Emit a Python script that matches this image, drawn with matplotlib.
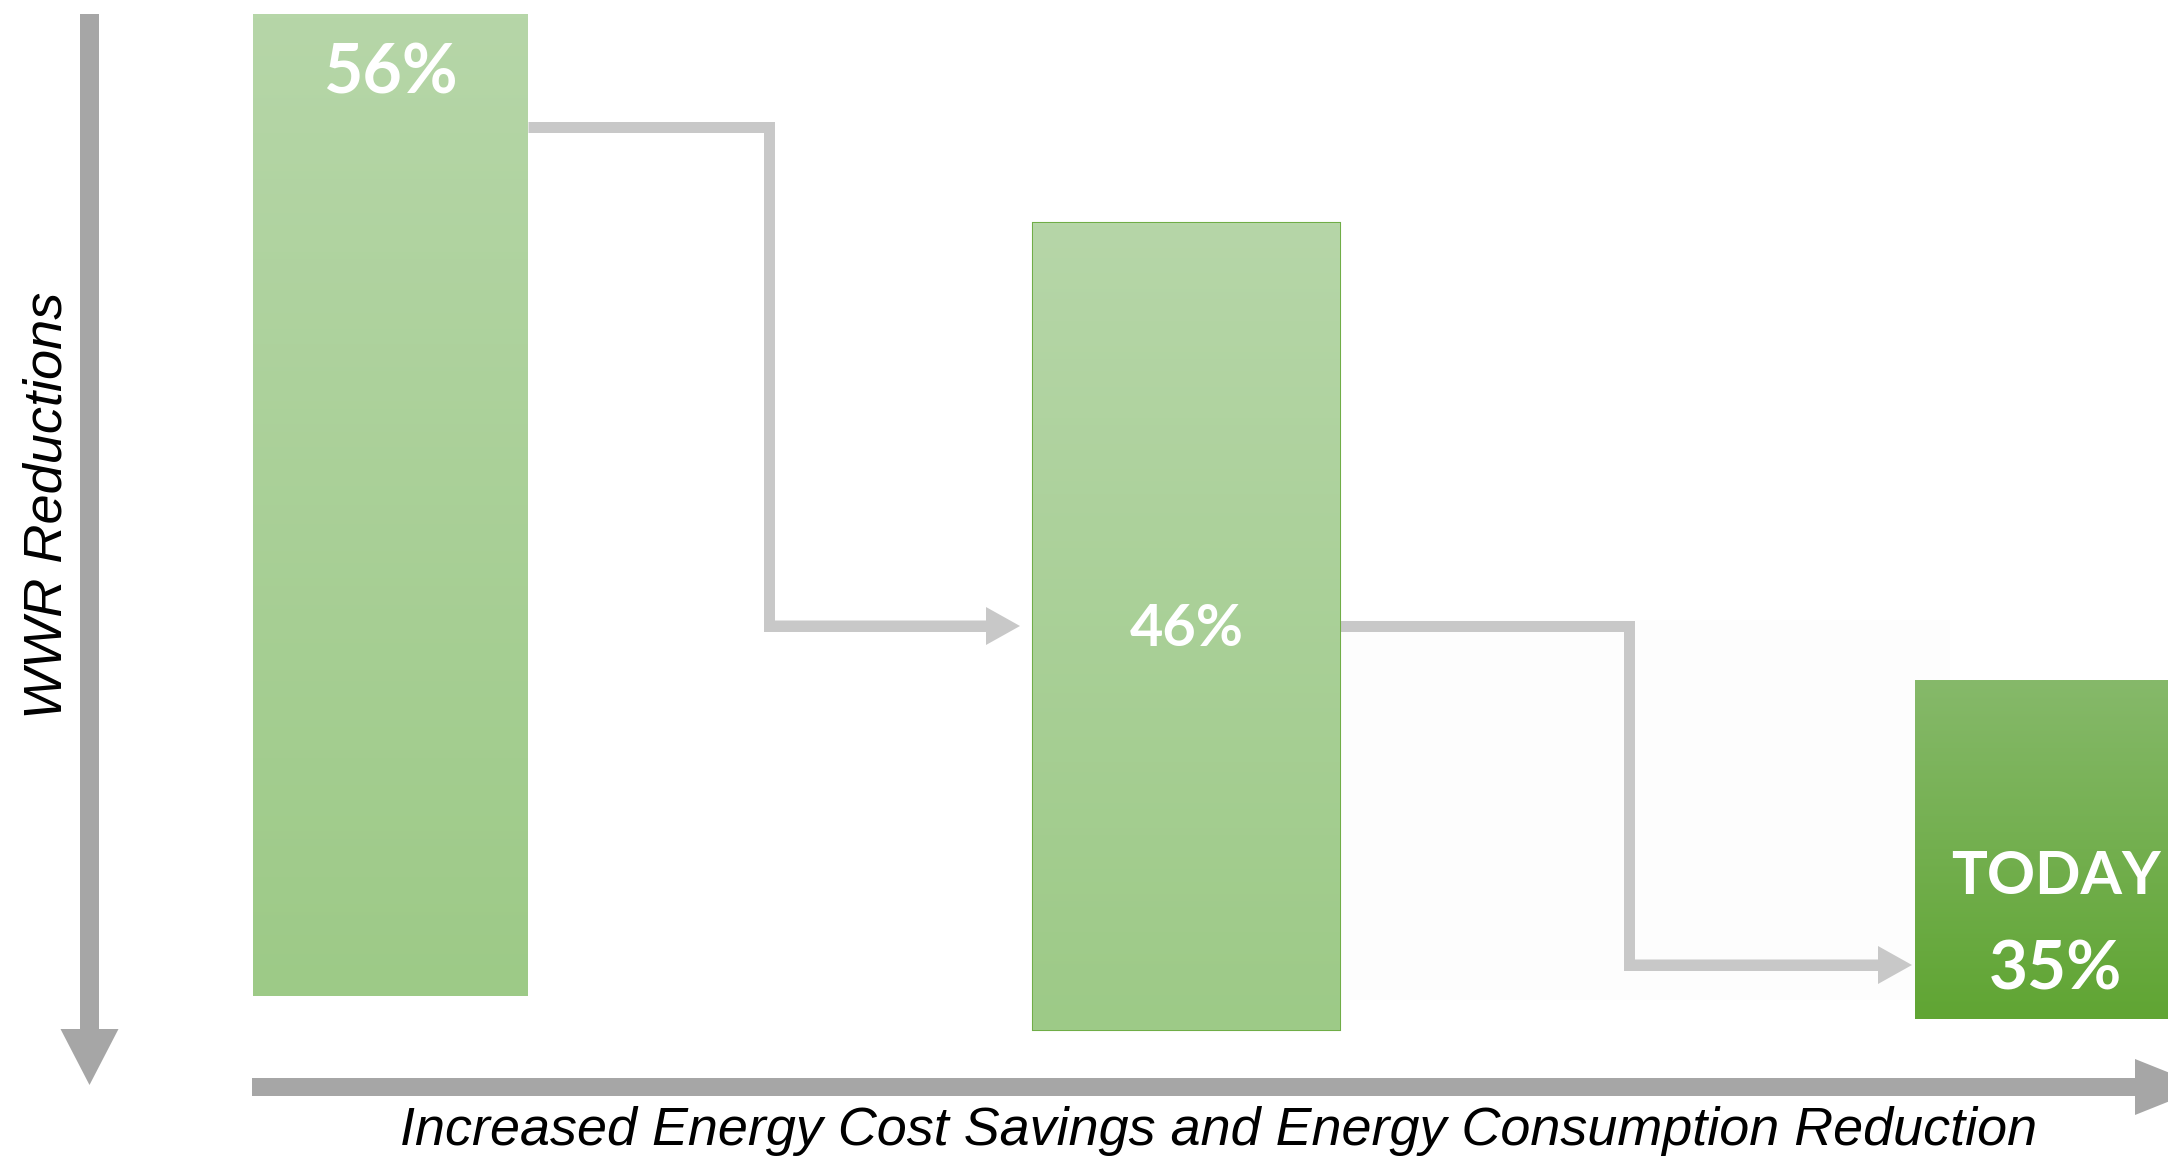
"""
WWR reduction steps infographic
"""

import numpy as np
import matplotlib.pyplot as plt
from matplotlib.colors import LinearSegmentedColormap

# data
labels = ["56%", "46%", "35%"]
values = [56, 46, 35]
tags = ["", "", "TODAY"]
ylabel = "WWR Reductions"
xlabel = "Increased Energy Cost Savings and Energy Consumption Reduction"

# layout (pixel units of the canvas)
W, H = 2168, 1163
bar_left = [253, 1033, 1915]
bar_right = [528, 1340, 2175]
bar_top = [14, 223, 680]
bar_bottom = [996, 1030, 1019]
grad_colors = [("#b6d6a8", "#9dca87"), ("#b6d6a8", "#9dca87"), ("#86b96a", "#60a533")]
edge_colors = ["none", "#70ad47", "none"]
label_y = [74, 630, 970]
label_size = [49, 41.5, 48.5]

fig = plt.figure(figsize=(W / 100, H / 100), dpi=100)
ax = fig.add_axes([0, 0, 1, 1])

# faint backdrop behind second connector
ax.add_patch(plt.Rectangle((1340, 620), 610, 380, color="#fdfdfd", lw=0, zorder=0))

# bars with vertical gradient
for l, r, t, b, (c0, c1), ec in zip(bar_left, bar_right, bar_top, bar_bottom, grad_colors, edge_colors):
    bar = ax.bar(l, b - t, width=r - l, bottom=t, align="edge", color=c1,
                 edgecolor=ec, lw=1.5, zorder=2)[0]
    cmap = LinearSegmentedColormap.from_list("g", [c0, c1])
    grad = np.linspace(0, 1, 256).reshape(-1, 1)
    im = ax.imshow(grad, extent=[l, r, b, t], origin="upper", cmap=cmap,
                   aspect="auto", zorder=2.5)
    im.set_clip_path(bar)

# labels inside bars
for l, r, lab, tag, y, fs in zip(bar_left, bar_right, labels, tags, label_y, label_size):
    cx = (l + min(r, W)) / 2 + (14 if tag else 0)
    ax.text(cx, y, lab, color="white", fontsize=fs, fontweight="bold",
            family="Lato", ha="center", va="center", zorder=4)
    if tag:
        ax.text(cx, 877, tag, color="white", fontsize=43, fontweight="bold",
                family="Lato", ha="center", va="center", zorder=4)

# step connectors
conn = "#c8c8c8"
lw = 11 * 0.72
steps = [[(528, 127), (769, 127), (769, 626), (990, 626)],
         [(1340, 626), (1629, 626), (1629, 965), (1880, 965)]]
tips = [1020, 1912]
for pts, tip in zip(steps, tips):
    xs, ys = zip(*pts)
    ax.plot(xs, ys, color=conn, lw=lw, solid_joinstyle="miter",
            solid_capstyle="butt", zorder=1)
    ax.arrow(xs[-2], ys[-1], tip - xs[-2], 0, width=11, head_width=38,
             head_length=34, length_includes_head=True, color=conn, lw=0, zorder=1)

# main axes arrows
ax.arrow(89.5, 14, 0, 1085 - 14, width=19, head_width=58, head_length=56,
         length_includes_head=True, color="#a6a6a6", lw=0, zorder=3)
ax.arrow(252, 1087, 2205 - 252, 0, width=18, head_width=56, head_length=70,
         length_includes_head=True, color="#a6a6a6", lw=0, zorder=3)

# axis captions
ax.text(48, 505, ylabel, rotation=90, fontsize=39, style="italic",
        family="Liberation Sans", ha="center", va="center")
ax.text(1219, 1131, xlabel, fontsize=38.8, style="italic",
        family="Liberation Sans", ha="center", va="center")

ax.set_xlim(0, W)
ax.set_ylim(H, 0)
ax.axis("off")

plt.savefig("out.png", dpi=100)
